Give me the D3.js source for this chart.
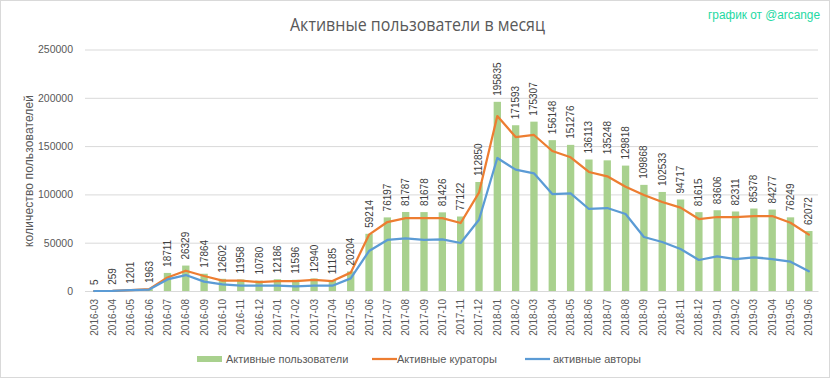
<!DOCTYPE html>
<html><head><meta charset="utf-8">
<script src="https://cdn.jsdelivr.net/npm/d3@7"></script>
<style>
html,body{margin:0;padding:0;background:#fff;}
svg{display:block;font-family:"Liberation Sans","Open Sans",sans-serif;}
</style></head>
<body><svg id="c" width="833" height="379"></svg>
<script>
const months = ["2016-03","2016-04","2016-05","2016-06","2016-07","2016-08","2016-09","2016-10","2016-11","2016-12",
"2017-01","2017-02","2017-03","2017-04","2017-05","2017-06","2017-07","2017-08","2017-09","2017-10","2017-11","2017-12",
"2018-01","2018-02","2018-03","2018-04","2018-05","2018-06","2018-07","2018-08","2018-09","2018-10","2018-11","2018-12",
"2019-01","2019-02","2019-03","2019-04","2019-05","2019-06"];
const activeUsers = [5,259,1201,1963,18711,26329,17864,12602,11958,10780,
12186,11596,12940,11185,20204,59214,76197,81787,81678,81426,77122,112850,
195835,171593,175307,156148,151276,136113,135248,129818,109868,102533,94717,81615,
83606,82311,85378,84277,76249,62072];
const activeCurators = [0,200,1000,1900,14000,21000,15500,10700,10700,9300,
10300,10300,11400,10300,19000,58300,71400,75500,75500,75500,70400,101800,
181100,159400,161500,144900,138400,123200,118700,108000,99400,92100,86300,74500,
76600,76600,77600,77600,70700,58300];
const activeAuthors = [0,150,800,1500,12000,16500,9700,6900,5500,5500,
5500,4800,5500,5500,13100,41400,52800,54500,52800,53500,49700,73800,
137700,125600,121800,100400,101100,84900,85900,79700,55900,50700,43500,32100,
35900,33100,34900,33100,30400,20400];
const yTicks = [0,50000,100000,150000,200000,250000];
const seriesNames = ["Активные пользователи","Активные кураторы","активные авторы"];

const svg = d3.select("#c");
const L = 85, R = 818, T = 49.5, B = 291;
const x = d3.scaleBand().domain(months).range([L, R]).paddingInner(0.6).paddingOuter(0.3);
const xc = d => x(d) + x.bandwidth()/2;
const y = d3.scaleLinear().domain([0, 250000]).range([B, T]);
const textCol = "#595959";

// border
svg.append("rect").attr("x",0.5).attr("y",0.5).attr("width",829).attr("height",377)
  .attr("fill","#fff").attr("stroke","#d9d9d9");

// gridlines + y labels
const yAxis = d3.axisLeft(y).tickValues(yTicks).tickSize(-(R-L)).tickPadding(12).tickFormat(d3.format("d"));
const gy = svg.append("g").attr("transform",`translate(${L},0)`).call(yAxis);
gy.select(".domain").remove();
gy.selectAll(".tick line").attr("stroke","#d9d9d9").attr("stroke-width",1);
gy.selectAll(".tick text").attr("fill",textCol).attr("font-size","10.5px")
  .attr("font-family","Liberation Sans, sans-serif");

// x axis labels
const xAxis = d3.axisBottom(x).tickSize(0).tickPadding(0);
const gx = svg.append("g").attr("transform",`translate(0,${B})`).call(xAxis);
gx.select(".domain").attr("stroke","#d9d9d9");
gx.selectAll(".tick text").attr("fill",textCol).attr("font-size","10px")
  .attr("font-family","Liberation Sans, sans-serif")
  .attr("transform","rotate(-90)").attr("text-anchor","end").attr("dy","0.35em").attr("dx","-8").attr("y",0).attr("x",0);

// bars
svg.append("g").selectAll("rect").data(months).join("rect")
  .attr("x", d => x(d)).attr("width", x.bandwidth())
  .attr("y", (d,i) => y(activeUsers[i])).attr("height", (d,i) => B - y(activeUsers[i]))
  .attr("fill","#a9d18e");

// lines
const line = arr => d3.line().x((d,i)=>xc(months[i])).y(d=>y(d))(arr);
svg.append("path").attr("d", line(activeCurators)).attr("fill","none")
  .attr("stroke","#ed7d31").attr("stroke-width",2.25).attr("stroke-linejoin","round").attr("stroke-linecap","round");
svg.append("path").attr("d", line(activeAuthors)).attr("fill","none")
  .attr("stroke","#5b9bd5").attr("stroke-width",2.25).attr("stroke-linejoin","round").attr("stroke-linecap","round");

// bar labels
svg.append("g").selectAll("text").data(months).join("text")
  .attr("transform",(d,i)=>`translate(${xc(d)},${y(activeUsers[i]) - 6}) rotate(-90)`)
  .attr("dy","0.35em").attr("text-anchor","start")
  .attr("font-size","10px").attr("fill","#404040")
  .text((d,i)=>activeUsers[i]);

// title
svg.append("text").attr("x",290).attr("y",30.5).attr("text-anchor","start")
  .attr("font-size","17.5px").attr("fill",textCol).attr("font-family","Open Sans, sans-serif")
  .attr("textLength",255).attr("lengthAdjust","spacingAndGlyphs")
  .text("Активные пользователи в месяц");

// watermark
svg.append("text").attr("x",708).attr("y",19).attr("text-anchor","start")
  .attr("font-size","12px").attr("fill","#1ed9a2")
  .attr("textLength",112).attr("lengthAdjust","spacingAndGlyphs")
  .text("график от @arcange");

// y axis title
svg.append("text").attr("transform","translate(29,247) rotate(-90)")
  .attr("text-anchor","start").attr("dy","0.35em")
  .attr("font-size","12px").attr("fill",textCol)
  .attr("textLength",152).attr("lengthAdjust","spacing")
  .text("количество пользователей");

// legend
const lg = svg.append("g").attr("font-size","11px").attr("fill",textCol);
lg.append("rect").attr("x",197).attr("y",356).attr("width",25).attr("height",6).attr("fill","#a9d18e");
lg.append("text").attr("x",226).attr("y",359).attr("dy","0.35em").text(seriesNames[0]);
lg.append("line").attr("x1",372).attr("x2",397).attr("y1",359).attr("y2",359).attr("stroke","#ed7d31").attr("stroke-width",2.25);
lg.append("text").attr("x",397).attr("y",359).attr("dy","0.35em").text(seriesNames[1]);
lg.append("line").attr("x1",525).attr("x2",550).attr("y1",359).attr("y2",359).attr("stroke","#5b9bd5").attr("stroke-width",2.25);
lg.append("text").attr("x",553).attr("y",359).attr("dy","0.35em").text(seriesNames[2]);
</script></body></html>
